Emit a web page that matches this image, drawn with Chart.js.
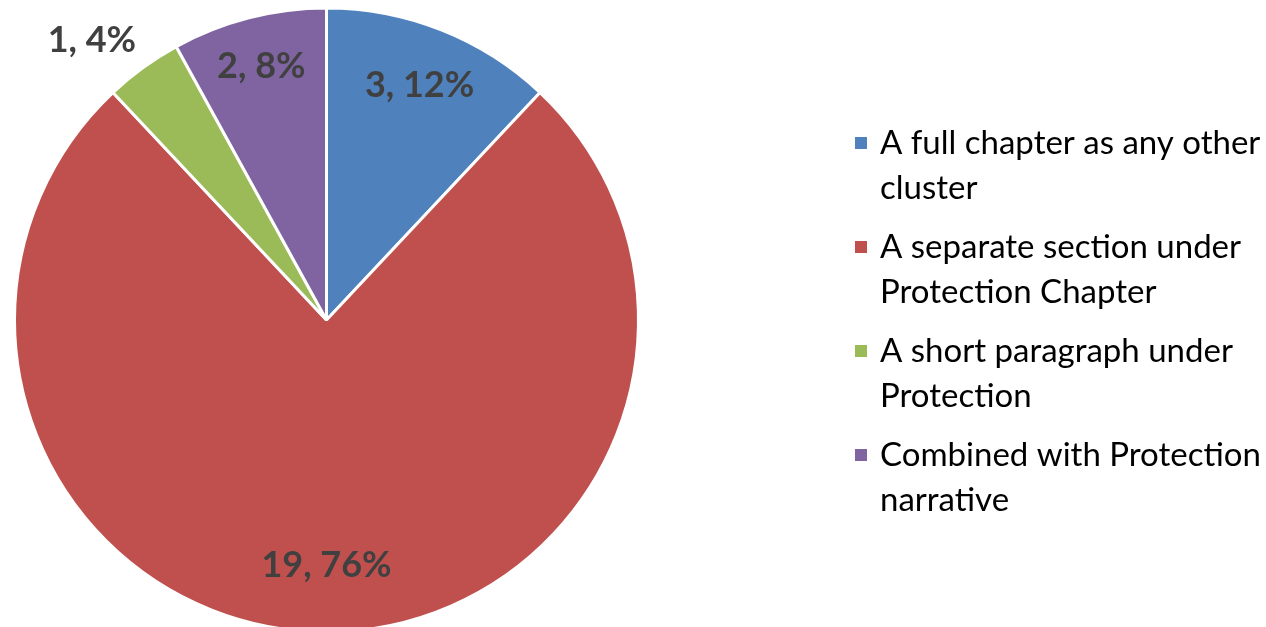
<!DOCTYPE html>
<html>
<head>
<meta charset="utf-8">
<script src="https://cdn.jsdelivr.net/npm/chart.js@4.4.0/dist/chart.umd.min.js"></script>
<style>
  html, body { margin: 0; padding: 0; background: #ffffff; overflow: hidden; }
  #wrap { position: absolute; left: 0; top: 0; width: 1266px; height: 640px; }
</style>
</head>
<body>
<div id="wrap"><canvas id="c" width="1266" height="640"></canvas></div>
<script>
// ---- data ----
const categories = [
  "A full chapter as any other cluster",
  "A separate section under Protection Chapter",
  "A short paragraph under Protection",
  "Combined with Protection narrative"
];
const counts = [3, 19, 1, 2];
const percents = [12, 76, 4, 8];
const sliceColors = ["#4F81BD", "#C0504D", "#9BBB59", "#8064A2"];

// label placement tweaks (radius factor, angle shift in degrees)
const labelRadius = [0.81, 0.785, 1.17, 0.84];
const labelAngleShift = [0, 0, -4, 0];

const valueLabels = {
  id: 'valueLabels',
  afterDatasetsDraw(chart) {
    const ctx = chart.ctx;
    const meta = chart.getDatasetMeta(0);
    ctx.save();
    ctx.font = 'bold 36px Lato';
    ctx.fillStyle = '#404040';
    ctx.textAlign = 'center';
    ctx.textBaseline = 'middle';
    meta.data.forEach((arc, i) => {
      const p = arc.getProps(['x', 'y', 'startAngle', 'endAngle', 'outerRadius'], true);
      const mid = (p.startAngle + p.endAngle) / 2 + labelAngleShift[i] * Math.PI / 180;
      const r = p.outerRadius * labelRadius[i];
      const x = p.x + Math.cos(mid) * r;
      const y = p.y + Math.sin(mid) * r;
      ctx.fillText(counts[i] + ', ' + percents[i] + '%', x, y);
    });
    ctx.restore();
  }
};

const sideLegend = {
  id: 'sideLegend',
  afterDraw(chart) {
    const ctx = chart.ctx;
    const textX = 880, boxX = 855, boxSize = 12;
    const firstY = 143, lineGap = 45, itemGap = 104, maxW = 386;
    ctx.save();
    ctx.font = '33px Lato';
    ctx.textBaseline = 'middle';
    ctx.textAlign = 'left';
    categories.forEach((label, i) => {
      const words = label.split(' ');
      const lines = [];
      let cur = '';
      words.forEach(w => {
        const t = cur ? cur + ' ' + w : w;
        if (ctx.measureText(t).width > maxW && cur) { lines.push(cur); cur = w; }
        else cur = t;
      });
      if (cur) lines.push(cur);
      const y0 = firstY + i * itemGap;
      ctx.fillStyle = sliceColors[i];
      ctx.fillRect(boxX, y0 - boxSize / 2, boxSize, boxSize);
      ctx.fillStyle = '#000000';
      lines.forEach((ln, k) => ctx.fillText(ln, textX, y0 + k * lineGap));
    });
    ctx.restore();
  }
};

new Chart(document.getElementById('c'), {
  type: 'pie',
  data: {
    labels: categories,
    datasets: [{
      data: counts,
      backgroundColor: sliceColors,
      borderColor: '#ffffff',
      borderWidth: 3
    }]
  },
  options: {
    responsive: false,
    animation: false,
    layout: { padding: { left: 13, top: 6, right: 626, bottom: 6 } },
    plugins: {
      legend: { display: false },
      tooltip: { enabled: false }
    }
  },
  plugins: [valueLabels, sideLegend]
});
</script>
</body>
</html>
